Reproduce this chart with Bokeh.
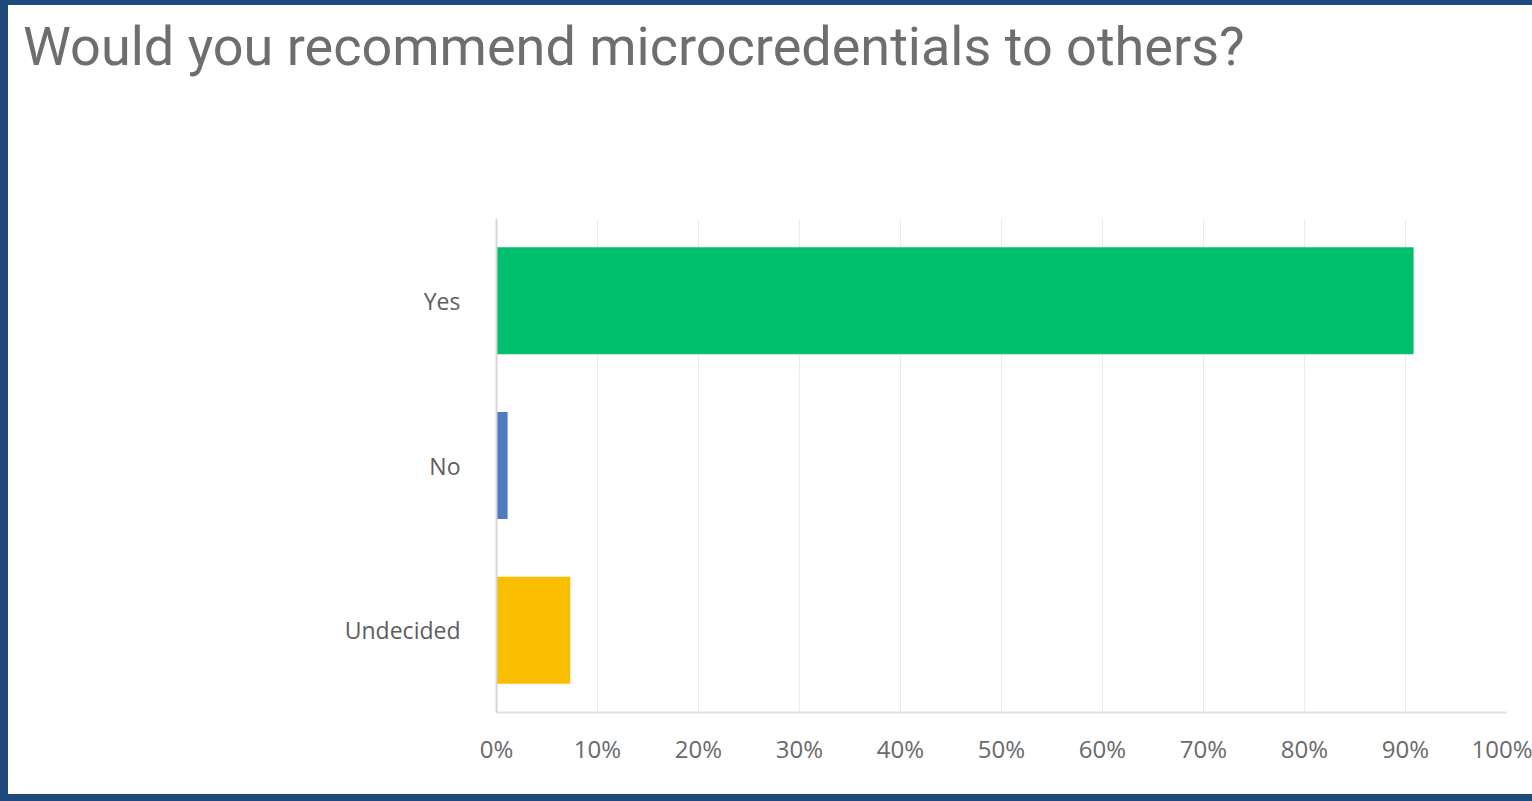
from bokeh.plotting import figure
from bokeh.models import FactorRange, Range1d, FixedTicker, PrintfTickFormatter, ColumnDataSource, Div
from bokeh.layouts import column
from bokeh.embed import file_html
from bokeh.resources import INLINE

title_text = "Would you recommend microcredentials to others?"
categories = ["Yes", "No", "Undecided"]
percent_values = [90.8, 1.1, 7.3]
bar_colors = ["#00BF6F", "#507CBF", "#F9BE00"]
x_ticks = [0, 10, 20, 30, 40, 50, 60, 70, 80, 90, 100]

src = ColumnDataSource(dict(cat=categories, val=percent_values, color=bar_colors))

BORDER = "#1F4A7E"
W = 1532 - 8
TOP_H = 203
H = 801 - 5 - 7 - 213

title_div = Div(
    text=(f'<div style="font-family:Roboto;font-size:54px;color:#6E6E6E;'
          f'padding:5px 0 0 10px;line-height:normal;white-space:nowrap;">{title_text}</div>'),
    width=W, height=TOP_H,
    styles={"background-color": "white"},
)

p = figure(
    width=W, height=H,
    y_range=FactorRange(factors=list(reversed(categories)), range_padding=0),
    x_range=Range1d(0, 100),
    output_backend="svg", toolbar_location=None,
    min_border_left=488, min_border_right=26, min_border_top=0, min_border_bottom=82,
)

p.hbar(y="cat", right="val", left=0, height=0.65, color="color", source=src, line_color=None)

p.outline_line_color = None
p.background_fill_color = "white"
p.border_fill_color = "white"

xa = p.xaxis[0]
xa.ticker = FixedTicker(ticks=x_ticks)
xa.formatter = PrintfTickFormatter(format="%d%%")
xa.axis_line_color = "#E2E2E2"
xa.axis_line_width = 2
xa.major_tick_line_color = None
xa.minor_tick_line_color = None
xa.major_label_text_font = "Open Sans"
xa.major_label_text_font_size = "24px"
xa.major_label_text_color = "#6A6A6A"
xa.major_label_standoff = 13

ya = p.yaxis[0]
ya.axis_line_color = "#D6D6D6"
ya.axis_line_width = 2
ya.major_tick_line_color = None
ya.minor_tick_line_color = None
ya.major_label_text_font = "Open Sans"
ya.major_label_text_font_size = "23px"
ya.major_label_text_color = "#5E5E5E"
ya.major_label_standoff = 30

p.xgrid.grid_line_color = "#EBEBEB"
p.xgrid.grid_line_width = 1
p.ygrid.grid_line_color = None

layout = column(title_div, p, spacing=0,
                styles={"border-top": f"5px solid {BORDER}", "border-left": f"8px solid {BORDER}",
                        "border-bottom": f"7px solid {BORDER}", "background-color": "white"})

open("out.html", "w").write(file_html(layout, INLINE))
